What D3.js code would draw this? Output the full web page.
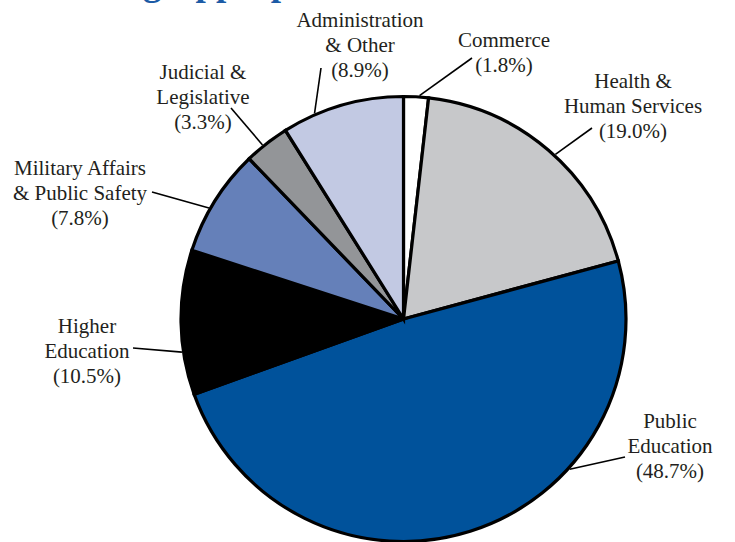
<!DOCTYPE html>
<html>
<head>
<meta charset="utf-8">
<script src="https://cdn.jsdelivr.net/npm/d3@7"></script>
<style>
  html, body { margin: 0; padding: 0; background: #ffffff; }
  svg { display: block; }
</style>
</head>
<body>
<svg id="chart" width="735" height="542"></svg>
<script>
// ---- data ----
const categories = ["Commerce", "Health & Human Services", "Public Education", "Higher Education",
                    "Military Affairs & Public Safety", "Judicial & Legislative", "Administration & Other"];
const shares = [1.8, 19.0, 48.7, 10.5, 7.8, 3.3, 8.9];
const labelLines = [
  ["Commerce"],
  ["Health &", "Human Services"],
  ["Public", "Education"],
  ["Higher", "Education"],
  ["Military Affairs", "& Public Safety"],
  ["Judicial &", "Legislative"],
  ["Administration", "& Other"]
];
const titleText = "Recurring Appropriations";

// ---- styles / layout ----
const colors = ["#ffffff", "#c7c8ca", "#00529b", "#000000", "#6580b9", "#939598", "#c2c9e3"];
// label layout: leader start angle (deg, clockwise from top), leader end (px), label center x, first baseline y
const labelLayout = [
  {a: 4.1,   ex: 472, ey: 58,  tx: 504, ty: 47},
  {a: 42.7,  ex: 592, ey: 128, tx: 633, ty: 88},
  {a: 132.1, ex: 625, ey: 457, tx: 670, ty: 428},
  {a: 261.5, ex: 133, ey: 348, tx: 87,  ty: 333},
  {a: 299.7, ex: 152, ey: 192, tx: 80,  ty: 175},
  {a: 321,   ex: 231, ey: 108, tx: 203, ty: 79},
  {a: 336.6, ex: 321, ey: 68,  tx: 360, ty: 27}
];

const W = 735, H = 542;
const cx = 403.5, cy = 319, R = 222.5;
const svg = d3.select("#chart");

// title (clipped at top edge in reference)
const fontSerif = "'Liberation Serif', 'Times New Roman', serif";
const title = svg.append("text")
  .attr("y", -5)
  .attr("font-family", fontSerif)
  .attr("font-weight", "bold")
  .attr("font-size", 37)
  .attr("fill", "#1c5ba6")
  .text(titleText);
// position so that the 'g' descender sits where it does in the reference
const prefixLen = title.node().getSubStringLength(0, titleText.indexOf("g"));
title.attr("x", 143 - prefixLen);

const pie = d3.pie().sort(null).value(d => d);
const arcs = pie(shares);
const arc = d3.arc().innerRadius(0).outerRadius(R);

const g = svg.append("g").attr("transform", `translate(${cx},${cy})`);
g.selectAll("path.slice")
  .data(arcs)
  .join("path")
  .attr("class", "slice")
  .attr("d", arc)
  .attr("fill", (d, i) => colors[i])
  .attr("stroke", "#000")
  .attr("stroke-width", 3.2)
  .attr("stroke-linejoin", "miter");

// leader lines
const leaderR = R + 1.5;
svg.append("g").selectAll("line")
  .data(labelLayout)
  .join("line")
  .attr("x1", d => cx + leaderR * Math.sin(d.a * Math.PI / 180))
  .attr("y1", d => cy - leaderR * Math.cos(d.a * Math.PI / 180))
  .attr("x2", d => d.ex)
  .attr("y2", d => d.ey)
  .attr("stroke", "#000")
  .attr("stroke-width", 1.6);

// labels
const fmt = d3.format(".1f");
const lab = svg.append("g")
  .attr("font-family", fontSerif)
  .attr("font-size", 21)
  .attr("fill", "#231f20")
  .attr("text-anchor", "middle");
labelLines.forEach((lines, i) => {
  const L = labelLayout[i];
  const all = lines.concat([`(${fmt(shares[i])}%)`]);
  const t = lab.append("text").attr("x", L.tx).attr("y", L.ty);
  all.forEach((s, j) => {
    t.append("tspan").attr("x", L.tx).attr("y", L.ty + j * 25).text(s);
  });
});
</script>
</body>
</html>
